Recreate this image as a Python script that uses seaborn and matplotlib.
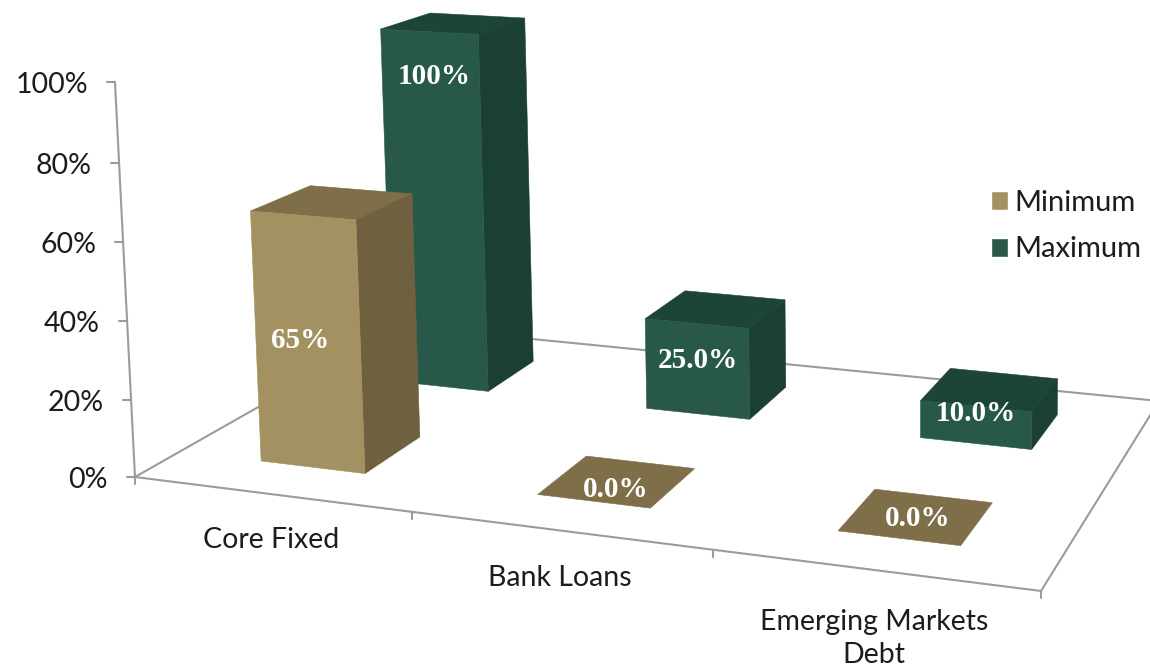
import numpy as np
import pandas as pd
import matplotlib
matplotlib.use('Agg')
import matplotlib.pyplot as plt
from matplotlib.patches import Patch
import seaborn as sns

# data
categories = ['Core Fixed', 'Bank Loans', 'Emerging Markets\nDebt']
minimum = [65.0, 0.0, 0.0]
maximum = [100.0, 25.0, 10.0]
min_labels = ['65%', '0.0%', '0.0%']
max_labels = ['100%', '25.0%', '10.0%']
y_ticks = [0, 20, 40, 60, 80, 100]

# bar footprint on the floor, in category / depth units
BAR_W = 0.385
BAR_D = 0.21
DEPTHS = {'min': 0.25, 'max': 0.75}

GOLD = {'front': '#a39161', 'side': '#6f6040', 'top': '#7f6f49'}
GREEN = {'front': '#28584a', 'side': '#1b3f33', 'top': '#1c4537'}
LINE = '#9b9b9b'
TEXT = '#1c1c1c'

# pixel nudges of the value labels from the front face middle
MIN_NUDGE = [(-8, -2), (22, -12), (19, -20)]
MAX_NUDGE = [(-1, -134), (1, -8), (0, -11)]
CAT_NUDGE = [46, 48, 69]

# perspective camera of the chart: (category/3, depth, share, 1) -> pixel
CAM = np.array([[780.3, 351.8, -22.9, 135.0],
                [42.6, -81.2, -397.0, 477.0],
                [-0.12077, 0.21405, -0.025, 1.0]])


def project(x, depth, value):
    p = CAM @ np.array([x / 3, depth, value / 100, 1.0])
    return p[0] / p[2], p[1] / p[2]


def box(ax, i, depth, value, colors):
    x0, x1 = i + 0.5 - BAR_W / 2, i + 0.5 + BAR_W / 2
    d0, d1 = depth - BAR_D / 2, depth + BAR_D / 2
    faces = [
        ('top', [(x0, d0, value), (x1, d0, value), (x1, d1, value), (x0, d1, value)]),
    ]
    if value > 0:
        faces.append(('side', [(x1, d0, 0), (x1, d1, 0), (x1, d1, value), (x1, d0, value)]))
        faces.append(('front', [(x0, d0, 0), (x1, d0, 0), (x1, d0, value), (x0, d0, value)]))
    for name, corners in faces:
        pts = np.array([project(*c) for c in corners])
        ax.fill(pts[:, 0], pts[:, 1], color=colors[name], lw=0.4, zorder=3)


sns.set_theme(style='white')
plt.rcParams['font.family'] = ['Lato', 'DejaVu Sans']

fig = plt.figure(figsize=(11.5, 6.68), dpi=100)
ax = fig.add_axes([0, 0, 1, 1])

# floor edges, value axis and the ticks
segs = [
    [project(0, 0, 0), project(3, 0, 0)],
    [project(3, 0, 0), project(3, 1, 0)],
    [project(3, 1, 0), project(0, 1, 0)],
    [project(0, 1, 0), project(0, 0, 0)],
    [project(0, 0, 0), project(0, 0, 100)],
]
for v in y_ticks:
    px, py = project(0, 0, v)
    segs.append([(px - 8, py), (px, py)])
for i in range(4):
    px, py = project(i, 0, 0)
    segs.append([(px, py), (px, py + 7)])

wire = pd.DataFrame([
    {'seg': n, 'px': p[0], 'py': p[1]} for n, s in enumerate(segs) for p in s
])
sns.lineplot(data=wire, x='px', y='py', units='seg', estimator=None, sort=False,
             color=LINE, lw=1.5, legend=False, ax=ax, zorder=1)

for v in y_ticks:
    px, py = project(0, 0, v)
    ax.text(px - 27, py + 3, f'{v}%', ha='right', va='center', fontsize=20.5, color=TEXT)

for i, name in enumerate(categories):
    px, py = project(i + 0.5, 0, 0)
    ax.text(px + 1, py + CAT_NUDGE[i], name, ha='center', va='center', fontsize=20.5,
            color=TEXT, linespacing=1.32)

# back row first so the gold bar sits over the green one
for i, v in enumerate(maximum):
    box(ax, i, DEPTHS['max'], v, GREEN)
for i, v in enumerate(minimum):
    box(ax, i, DEPTHS['min'], v, GOLD)

label_rows = [(minimum, min_labels, MIN_NUDGE, 'min'), (maximum, max_labels, MAX_NUDGE, 'max')]
for values, labels, nudges, key in label_rows:
    for i, v in enumerate(values):
        px, py = project(i + 0.5, DEPTHS[key] - BAR_D / 2, v / 2)
        ax.text(px + nudges[i][0], py + nudges[i][1], labels[i], ha='center', va='center',
                fontsize=21, fontweight='bold', family=['Liberation Serif'], color='white',
                zorder=5)

handles = [Patch(facecolor=GOLD['front'], label='Minimum'),
           Patch(facecolor=GREEN['front'], label='Maximum')]
ax.legend(handles=handles, loc='upper left', bbox_to_anchor=(991 / 1150, 1 - 190 / 668),
          frameon=False, fontsize=21, labelcolor=TEXT, handlelength=0.58, handleheight=0.62,
          handletextpad=0.22, labelspacing=0.7, borderpad=0, borderaxespad=0)

ax.set_xlim(0, 1150)
ax.set_ylim(668, 0)
ax.set_axis_off()

fig.savefig('out.png', dpi=100)
